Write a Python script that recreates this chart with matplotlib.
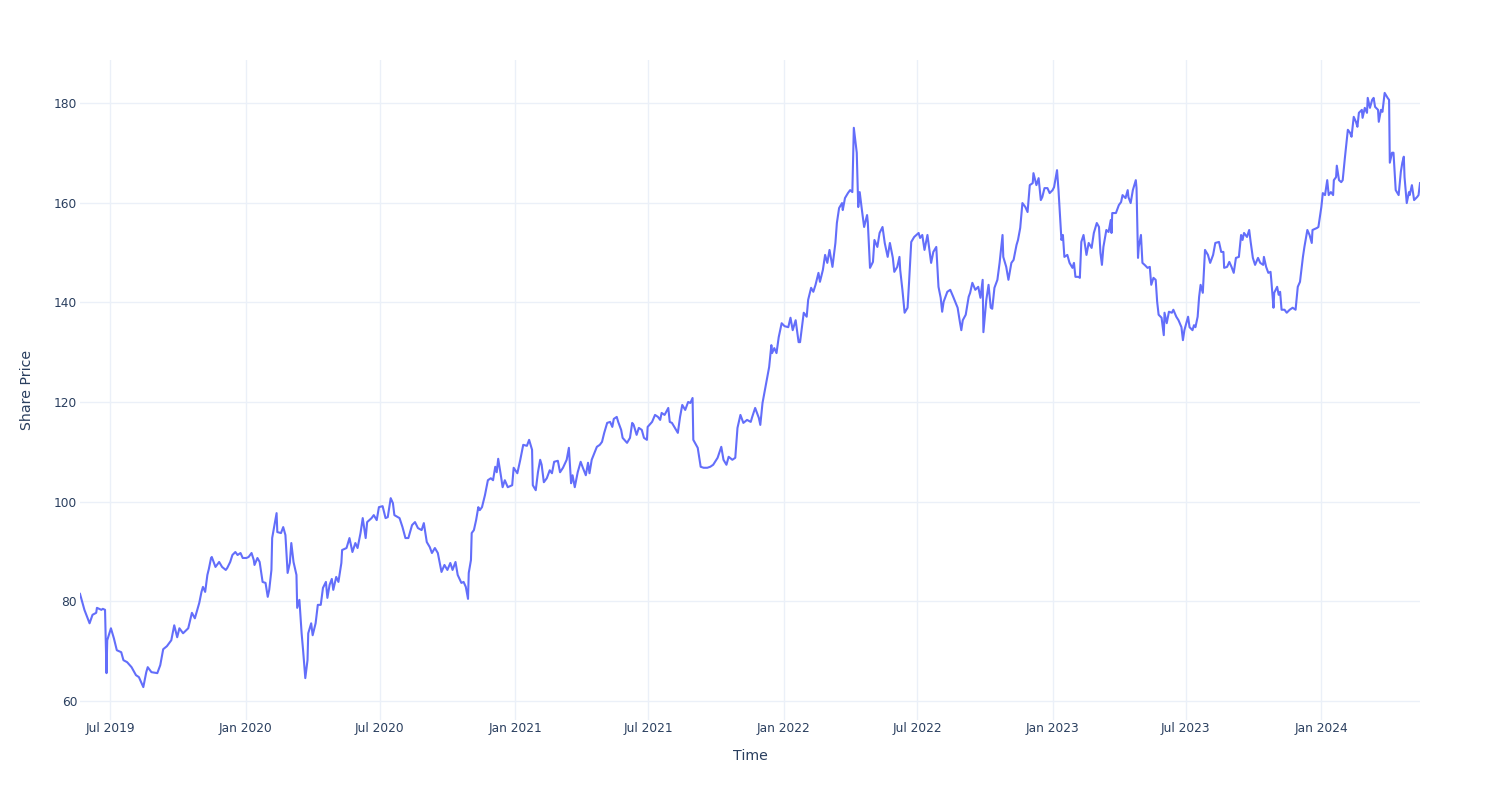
import matplotlib.pyplot as plt
import matplotlib.dates as mdates
import pandas as pd

# share price (date, close)
dates = [
    # 2019
    '2019-05-21', '2019-05-27', '2019-06-03', '2019-06-07', '2019-06-12', '2019-06-13',
    '2019-06-19', '2019-06-21', '2019-06-24', '2019-06-26', '2019-06-27', '2019-07-02',
    '2019-07-06', '2019-07-10', '2019-07-16', '2019-07-19', '2019-07-24', '2019-07-30',
    '2019-08-05', '2019-08-09', '2019-08-15', '2019-08-19', '2019-08-21', '2019-08-26',
    '2019-09-03', '2019-09-07', '2019-09-11', '2019-09-16', '2019-09-22', '2019-09-26',
    '2019-09-30', '2019-10-03', '2019-10-08', '2019-10-15', '2019-10-20', '2019-10-24',
    '2019-10-30', '2019-11-02', '2019-11-04', '2019-11-07', '2019-11-10', '2019-11-12',
    '2019-11-15', '2019-11-16', '2019-11-21', '2019-11-26', '2019-11-30', '2019-12-05',
    '2019-12-07', '2019-12-11', '2019-12-14', '2019-12-18', '2019-12-21', '2019-12-25',
    '2019-12-28',
    # 2020
    '2020-01-02', '2020-01-05', '2020-01-09', '2020-01-12', '2020-01-13', '2020-01-17',
    '2020-01-20', '2020-01-24', '2020-01-28', '2020-01-31', '2020-02-02', '2020-02-05',
    '2020-02-06', '2020-02-12', '2020-02-13', '2020-02-18', '2020-02-21', '2020-02-24',
    '2020-02-27', '2020-03-01', '2020-03-03', '2020-03-06', '2020-03-10', '2020-03-11',
    '2020-03-14', '2020-03-17', '2020-03-19', '2020-03-22', '2020-03-25', '2020-03-26',
    '2020-03-30', '2020-04-01', '2020-04-05', '2020-04-08', '2020-04-12', '2020-04-15',
    '2020-04-19', '2020-04-21', '2020-04-24', '2020-04-27', '2020-04-29', '2020-05-03',
    '2020-05-06', '2020-05-10', '2020-05-11', '2020-05-17', '2020-05-21', '2020-05-25',
    '2020-05-29', '2020-06-01', '2020-06-05', '2020-06-08', '2020-06-12', '2020-06-14',
    '2020-06-20', '2020-06-23', '2020-06-27', '2020-06-30', '2020-07-05', '2020-07-09',
    '2020-07-12', '2020-07-16', '2020-07-19', '2020-07-21', '2020-07-28', '2020-08-01',
    '2020-08-05', '2020-08-09', '2020-08-14', '2020-08-18', '2020-08-22', '2020-08-27',
    '2020-08-30', '2020-09-03', '2020-09-07', '2020-09-10', '2020-09-14', '2020-09-18',
    '2020-09-23', '2020-09-27', '2020-10-01', '2020-10-05', '2020-10-08', '2020-10-12',
    '2020-10-15', '2020-10-20', '2020-10-23', '2020-10-26', '2020-10-29', '2020-10-30',
    '2020-11-02', '2020-11-03', '2020-11-06', '2020-11-09', '2020-11-12', '2020-11-14',
    '2020-11-17', '2020-11-21', '2020-11-25', '2020-11-29', '2020-12-02', '2020-12-05',
    '2020-12-07', '2020-12-09', '2020-12-13', '2020-12-15', '2020-12-18', '2020-12-22',
    '2020-12-28', '2020-12-30',
    # 2021
    '2021-01-04', '2021-01-08', '2021-01-12', '2021-01-17', '2021-01-20', '2021-01-24',
    '2021-01-25', '2021-01-29', '2021-02-01', '2021-02-04', '2021-02-06', '2021-02-09',
    '2021-02-13', '2021-02-17', '2021-02-20', '2021-02-23', '2021-02-28', '2021-03-03',
    '2021-03-07', '2021-03-12', '2021-03-15', '2021-03-18', '2021-03-20', '2021-03-23',
    '2021-03-27', '2021-03-31', '2021-04-03', '2021-04-07', '2021-04-10', '2021-04-12',
    '2021-04-15', '2021-04-22', '2021-04-26', '2021-04-29', '2021-05-02', '2021-05-06',
    '2021-05-10', '2021-05-13', '2021-05-15', '2021-05-19', '2021-05-21', '2021-05-25',
    '2021-05-27', '2021-06-02', '2021-06-06', '2021-06-09', '2021-06-11', '2021-06-15',
    '2021-06-18', '2021-06-22', '2021-06-25', '2021-06-29', '2021-06-30', '2021-07-06',
    '2021-07-10', '2021-07-14', '2021-07-17', '2021-07-19', '2021-07-23', '2021-07-28',
    '2021-07-30', '2021-08-02', '2021-08-06', '2021-08-10', '2021-08-13', '2021-08-16',
    '2021-08-20', '2021-08-24', '2021-08-27', '2021-08-30', '2021-08-31', '2021-09-06',
    '2021-09-10', '2021-09-14', '2021-09-19', '2021-09-23', '2021-09-27', '2021-10-03',
    '2021-10-08', '2021-10-11', '2021-10-15', '2021-10-18', '2021-10-23', '2021-10-27',
    '2021-10-30', '2021-11-03', '2021-11-07', '2021-11-12', '2021-11-17', '2021-11-19',
    '2021-11-23', '2021-11-28', '2021-11-30', '2021-12-03', '2021-12-05', '2021-12-10',
    '2021-12-12', '2021-12-15', '2021-12-16', '2021-12-19', '2021-12-22', '2021-12-25',
    '2021-12-29',
    # 2022
    '2022-01-02', '2022-01-07', '2022-01-10', '2022-01-13', '2022-01-17', '2022-01-21',
    '2022-01-23', '2022-01-28', '2022-02-01', '2022-02-03', '2022-02-07', '2022-02-10',
    '2022-02-13', '2022-02-17', '2022-02-19', '2022-02-23', '2022-02-26', '2022-03-01',
    '2022-03-04', '2022-03-08', '2022-03-12', '2022-03-14', '2022-03-17', '2022-03-21',
    '2022-03-22', '2022-03-25', '2022-03-29', '2022-04-01', '2022-04-04', '2022-04-06',
    '2022-04-10', '2022-04-12', '2022-04-14', '2022-04-17', '2022-04-20', '2022-04-24',
    '2022-04-25', '2022-04-28', '2022-05-02', '2022-05-04', '2022-05-08', '2022-05-11',
    '2022-05-15', '2022-05-18', '2022-05-22', '2022-05-25', '2022-05-29', '2022-05-31',
    '2022-06-04', '2022-06-07', '2022-06-08', '2022-06-11', '2022-06-14', '2022-06-18',
    '2022-06-20', '2022-06-23', '2022-06-27', '2022-07-03', '2022-07-05', '2022-07-08',
    '2022-07-11', '2022-07-15', '2022-07-18', '2022-07-20', '2022-07-23', '2022-07-27',
    '2022-07-30', '2022-08-02', '2022-08-04', '2022-08-06', '2022-08-11', '2022-08-15',
    '2022-08-19', '2022-08-25', '2022-08-28', '2022-08-30', '2022-09-01', '2022-09-05',
    '2022-09-09', '2022-09-11', '2022-09-14', '2022-09-18', '2022-09-22', '2022-09-25',
    '2022-09-28', '2022-09-29', '2022-10-03', '2022-10-06', '2022-10-09', '2022-10-11',
    '2022-10-14', '2022-10-18', '2022-10-21', '2022-10-25', '2022-10-26', '2022-10-30',
    '2022-11-02', '2022-11-06', '2022-11-09', '2022-11-13', '2022-11-15', '2022-11-18',
    '2022-11-21', '2022-11-25', '2022-11-28', '2022-12-01', '2022-12-05', '2022-12-06',
    '2022-12-10', '2022-12-13', '2022-12-16', '2022-12-18', '2022-12-21', '2022-12-25',
    '2022-12-28',
    # 2023
    '2023-01-01', '2023-01-03', '2023-01-07', '2023-01-09', '2023-01-11', '2023-01-13',
    '2023-01-15', '2023-01-17', '2023-01-21', '2023-01-24', '2023-01-28', '2023-01-30',
    '2023-02-01', '2023-02-05', '2023-02-07', '2023-02-09', '2023-02-12', '2023-02-16',
    '2023-02-19', '2023-02-23', '2023-02-26', '2023-03-02', '2023-03-05', '2023-03-07',
    '2023-03-09', '2023-03-11', '2023-03-15', '2023-03-18', '2023-03-21', '2023-03-22',
    '2023-03-23', '2023-03-28', '2023-04-01', '2023-04-04', '2023-04-06', '2023-04-10',
    '2023-04-13', '2023-04-14', '2023-04-17', '2023-04-20', '2023-04-24', '2023-04-25',
    '2023-04-27', '2023-04-28', '2023-05-01', '2023-05-03', '2023-05-06', '2023-05-10',
    '2023-05-13', '2023-05-15', '2023-05-18', '2023-05-21', '2023-05-23', '2023-05-25',
    '2023-05-29', '2023-06-01', '2023-06-02', '2023-06-05', '2023-06-08', '2023-06-12',
    '2023-06-14', '2023-06-18', '2023-06-21', '2023-06-25', '2023-06-27', '2023-06-29',
    '2023-07-04', '2023-07-06', '2023-07-10', '2023-07-12', '2023-07-14', '2023-07-17',
    '2023-07-19', '2023-07-21', '2023-07-24', '2023-07-27', '2023-07-31', '2023-08-03',
    '2023-08-07', '2023-08-10', '2023-08-15', '2023-08-18', '2023-08-21', '2023-08-22',
    '2023-08-26', '2023-08-29', '2023-09-01', '2023-09-04', '2023-09-07', '2023-09-11',
    '2023-09-14', '2023-09-16', '2023-09-18', '2023-09-22', '2023-09-25', '2023-09-27',
    '2023-09-30', '2023-10-03', '2023-10-07', '2023-10-10', '2023-10-14', '2023-10-15',
    '2023-10-18', '2023-10-21', '2023-10-24', '2023-10-25', '2023-10-28', '2023-10-29',
    '2023-11-02', '2023-11-04', '2023-11-06', '2023-11-08', '2023-11-12', '2023-11-15',
    '2023-11-19', '2023-11-23', '2023-11-27', '2023-11-30', '2023-12-03', '2023-12-07',
    '2023-12-09', '2023-12-13', '2023-12-16', '2023-12-19', '2023-12-20', '2023-12-26',
    '2023-12-28',
    # 2024
    '2024-01-01', '2024-01-03', '2024-01-06', '2024-01-09', '2024-01-11', '2024-01-14',
    '2024-01-17', '2024-01-18', '2024-01-21', '2024-01-22', '2024-01-25', '2024-01-28',
    '2024-01-30', '2024-02-02', '2024-02-06', '2024-02-09', '2024-02-11', '2024-02-14',
    '2024-02-17', '2024-02-19', '2024-02-21', '2024-02-25', '2024-02-26', '2024-02-29',
    '2024-03-03', '2024-03-04', '2024-03-07', '2024-03-10', '2024-03-12', '2024-03-14',
    '2024-03-18', '2024-03-19', '2024-03-22', '2024-03-24', '2024-03-27', '2024-03-31',
    '2024-04-02', '2024-04-03', '2024-04-06', '2024-04-08', '2024-04-11', '2024-04-15',
    '2024-04-18', '2024-04-20', '2024-04-22', '2024-04-23', '2024-04-26', '2024-04-29',
    '2024-04-30', '2024-05-03', '2024-05-06', '2024-05-10', '2024-05-12', '2024-05-14',
]

prices = [
    # 2019
    81.5, 78.3, 75.6, 77.3, 77.7, 78.7,
    78.3, 78.5, 78.3, 65.6, 72.2, 74.6,
    72.6, 70.2, 69.8, 68.2, 67.8, 66.8,
    65.2, 64.8, 62.8, 65.8, 66.8, 65.8,
    65.6, 67.2, 70.4, 71.0, 72.2, 75.2,
    72.8, 74.6, 73.6, 74.6, 77.7, 76.6,
    79.7, 81.9, 82.9, 81.9, 85.3, 86.5,
    88.7, 88.9, 86.9, 87.9, 86.9, 86.3,
    86.7, 87.9, 89.3, 89.9, 89.3, 89.7,
    88.7,
    # 2020
    88.7, 88.9, 89.7, 88.3, 87.3, 88.7,
    87.9, 83.9, 83.7, 80.9, 82.3, 86.3,
    92.7, 97.7, 93.9, 93.7, 94.9, 93.3,
    85.7, 87.7, 91.7, 87.9, 85.3, 78.7,
    80.3, 73.6, 70.2, 64.6, 68.2, 73.6,
    75.6, 73.2, 75.6, 79.3, 79.3, 82.7,
    83.9, 80.7, 83.3, 84.5, 82.3, 84.9,
    83.9, 87.7, 90.3, 90.7, 92.7, 89.9,
    91.7, 90.7, 93.7, 96.7, 92.7, 95.9,
    96.7, 97.3, 96.3, 98.9, 99.1, 96.7,
    96.9, 100.7, 99.7, 97.3, 96.7, 94.9,
    92.7, 92.7, 95.3, 95.9, 94.7, 94.3,
    95.7, 91.9, 90.9, 89.7, 90.7, 89.7,
    85.9, 87.3, 86.3, 87.7, 86.3, 87.9,
    85.3, 83.7, 83.9, 82.9, 80.5, 85.7,
    88.3, 93.7, 94.3, 96.3, 98.9, 98.3,
    98.9, 101.3, 104.3, 104.7, 104.3, 107.0,
    105.9, 108.6, 104.9, 102.9, 104.3, 102.9,
    103.3, 106.8,
    # 2021
    105.7, 108.4, 111.4, 111.2, 112.4, 110.4,
    103.3, 102.3, 105.9, 108.4, 107.4, 103.9,
    104.7, 106.3, 105.7, 108.0, 108.2, 105.9,
    106.8, 108.4, 110.8, 103.7, 105.3, 102.9,
    105.9, 108.0, 106.8, 105.3, 107.8, 105.7,
    108.4, 111.0, 111.4, 112.0, 113.8, 115.8,
    116.0, 115.0, 116.6, 117.0, 116.0, 114.4,
    112.8, 111.8, 112.8, 115.8, 115.4, 113.4,
    114.8, 114.4, 112.8, 112.4, 115.0, 116.0,
    117.4, 117.0, 116.4, 117.8, 117.4, 118.8,
    116.0, 115.8, 114.8, 113.8, 117.0, 119.4,
    118.4, 120.0, 119.8, 120.8, 112.4, 110.8,
    107.0, 106.8, 106.8, 107.0, 107.4, 108.8,
    111.0, 108.4, 107.4, 109.0, 108.4, 108.8,
    114.8, 117.4, 115.8, 116.4, 116.0, 117.0,
    118.8, 116.8, 115.4, 119.8, 121.4, 125.4,
    127.0, 131.4, 129.8, 130.8, 129.8, 133.0,
    135.8,
    # 2022
    135.2, 135.0, 136.9, 134.4, 136.4, 132.0,
    132.0, 137.9, 137.1, 140.5, 142.9, 142.1,
    143.5, 145.9, 144.1, 146.5, 149.5, 147.9,
    150.5, 147.1, 151.9, 155.9, 158.9, 159.9,
    158.5, 160.9, 161.9, 162.5, 162.1, 175.0,
    170.0, 159.1, 162.1, 158.5, 155.1, 157.5,
    156.1, 146.9, 148.1, 152.5, 151.1, 153.9,
    155.1, 151.9, 149.1, 151.9, 148.9, 146.1,
    147.1, 149.1, 146.5, 142.5, 137.9, 138.9,
    143.9, 152.1, 153.1, 153.9, 152.9, 153.5,
    150.5, 153.5, 150.1, 147.9, 150.1, 151.1,
    143.1, 140.9, 138.1, 140.1, 142.1, 142.5,
    141.1, 138.9, 136.1, 134.4, 136.4, 137.5,
    141.1, 141.9, 143.9, 142.5, 143.1, 140.9,
    144.5, 134.0, 140.5, 143.5, 138.9, 138.7,
    142.9, 144.5, 147.9, 153.5, 149.1, 147.1,
    144.5, 147.9, 148.5, 151.5, 152.5, 154.9,
    159.9, 159.1, 158.1, 163.5, 163.9, 165.9,
    163.5, 164.9, 160.5, 161.1, 162.9, 162.9,
    161.9,
    # 2023
    162.5, 163.1, 166.5, 162.5, 157.5, 152.5,
    153.5, 149.1, 149.5, 147.9, 146.9, 147.9,
    145.1, 145.1, 144.9, 152.1, 153.5, 149.5,
    151.9, 150.9, 153.9, 155.9, 155.1, 149.9,
    147.5, 151.1, 154.5, 154.1, 156.5, 153.9,
    157.9, 157.9, 159.5, 160.1, 161.5, 160.9,
    162.5, 161.1, 159.9, 162.5, 164.5, 162.9,
    148.9, 151.1, 153.5, 147.9, 147.5, 146.9,
    147.1, 143.5, 144.9, 144.5, 140.1, 137.5,
    136.9, 133.4, 137.9, 135.8, 138.1, 137.9,
    138.5, 137.1, 136.4, 135.0, 132.4, 134.4,
    137.1, 135.0, 134.4, 135.4, 135.0, 137.1,
    141.1, 143.5, 141.9, 150.5, 149.5, 147.9,
    149.5, 151.9, 152.1, 150.1, 150.1, 146.9,
    147.1, 148.1, 147.1, 145.9, 148.9, 149.1,
    153.5, 152.5, 153.9, 153.1, 154.5, 152.1,
    148.9, 147.5, 148.9, 147.9, 147.5, 149.1,
    147.1, 145.9, 146.1, 144.5, 138.9, 141.9,
    143.1, 141.5, 142.1, 138.5, 138.5, 137.9,
    138.5, 138.9, 138.5, 143.1, 144.1, 149.1,
    151.1, 154.5, 153.5, 151.9, 154.5, 154.9,
    155.1,
    # 2024
    159.1, 161.9, 161.5, 164.5, 161.5, 162.1,
    161.5, 164.5, 165.1, 167.4, 164.5, 164.1,
    164.5, 169.0, 174.6, 174.0, 173.2, 177.2,
    176.2, 175.2, 178.0, 178.6, 177.0, 179.0,
    178.0, 181.0, 179.0, 180.6, 181.0, 179.2,
    178.6, 176.2, 178.6, 178.2, 182.0, 181.0,
    180.6, 168.0, 170.0, 170.0, 162.5, 161.5,
    166.2, 168.0, 169.2, 165.1, 159.9, 162.1,
    161.5, 163.5, 160.5, 161.1, 161.5, 163.9,
]

tick_dates = ['2019-07-01', '2020-01-01', '2020-07-01', '2021-01-01', '2021-07-01',
              '2022-01-01', '2022-07-01', '2023-01-01', '2023-07-01', '2024-01-01']
y_ticks = [60, 80, 100, 120, 140, 160, 180]

df = pd.DataFrame({'date': pd.to_datetime(dates), 'price': prices})
ticks = pd.to_datetime(tick_dates)

text_col = '#2a3f5f'
grid_col = '#ebf0f8'

fig = plt.figure(figsize=(15, 8), dpi=100)
ax = fig.add_axes([80 / 1500, 80 / 800, 1340 / 1500, 660 / 800])

ax.plot(df['date'], df['price'], color='#636efa', linewidth=1.5)

ax.set_xlim(df['date'].min(), df['date'].max())
ax.set_ylim(56.2, 188.6)

ax.set_xticks(ticks)
ax.xaxis.set_major_formatter(mdates.DateFormatter('%b %Y'))
ax.set_yticks(y_ticks)

ax.grid(True, color=grid_col, linewidth=1)
ax.set_axisbelow(True)
for s in ax.spines.values():
    s.set_visible(False)
ax.tick_params(length=0, labelsize=8.8, labelcolor=text_col)
ax.tick_params(axis='x', pad=1.5)
ax.tick_params(axis='y', pad=2)

ax.set_xlabel('Time', fontsize=10.2, color=text_col)
ax.set_ylabel('Share Price', fontsize=10.2, color=text_col)
ax.xaxis.label.set_va('center')
ax.yaxis.label.set_va('center')
ax.xaxis.set_label_coords(0.5, -0.0545)
ax.yaxis.set_label_coords(-0.0396, 0.5)

fig.savefig('out.png', dpi=100, facecolor='white')
